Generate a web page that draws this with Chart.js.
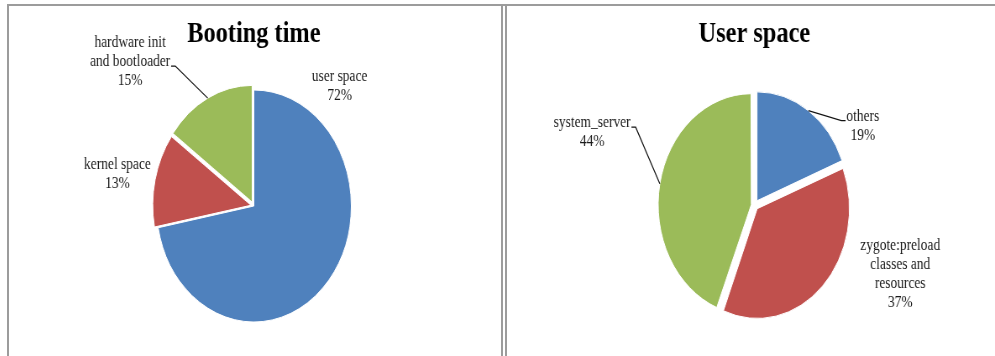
<!DOCTYPE html>
<html>
<head>
<meta charset="utf-8">
<title>Booting time / User space</title>
<script src="https://cdn.jsdelivr.net/npm/chart.js@4.4.0/dist/chart.umd.min.js"></script>
<style>
    html, body { margin: 0; padding: 0; background: #fff; overflow: hidden; }
    body { width: 995px; height: 356px; position: relative; }
    .frame { position: absolute; background: #9c9c9c; }
    /* the source figure is squeezed sideways, so each chart is drawn wide and scaled in x */
    .squash { position: absolute; top: 0; height: 356px; transform: scaleX(0.84); transform-origin: 0 0; }
</style>
</head>
<body>
<div class="squash" style="left:9px;width:586px"><canvas id="bootChart" width="586" height="356"></canvas></div>
<div class="squash" style="left:507px;width:581px"><canvas id="userChart" width="581" height="356"></canvas></div>
<div class="frame" style="left:7px;top:4px;width:988px;height:2px"></div>
<div class="frame" style="left:7px;top:4px;width:2px;height:352px"></div>
<div class="frame" style="left:501px;top:4px;width:2px;height:352px"></div>
<div class="frame" style="left:505px;top:4px;width:2px;height:352px"></div>
<script>
// Booting time breakdown (%)
const bootCategories = [['user space'], ['kernel space'], ['hardware init', 'and bootloader']];
const bootShares = [72, 13, 15];

// User space breakdown (%)
const userCategories = [['others'], ['zygote:preload', 'classes and', 'resources'], ['system_server']];
const userShares = [19, 37, 44];

const sliceColors = ['#4F81BD', '#C0504D', '#9BBB59'];
const serif = '"Liberation Serif", "Times New Roman", serif';

// where each data label sits, in radii from the pie centre
const bootLabelSpots = [
    { dx: 0.88, dy: -1.03 },
    { dx: -1.40, dy: -0.27 },
    { dx: -1.27, dy: -1.24, leader: true }
];
const userLabelSpots = [
    { dx: 1.19, dy: -0.73, leader: true },
    { dx: 1.60, dy: 0.64 },
    { dx: -1.78, dy: -0.67, leader: true }
];

/**
 * How far Chart.js actually pushes an arc out for its offset option
 */
function arcShift(arc) {
    const offset = arc.options.offset || 0;
    const circ = arc.endAngle - arc.startAngle;
    return offset / 4 * (2 - Math.sin(Math.min(Math.PI, circ)));
}

// Excel style data labels: category + percent, with leader lines for some
const pieLabels = {
    id: 'pieLabels',
    afterDatasetsDraw(chart, args, opts) {
        const ctx = chart.ctx;
        const meta = chart.getDatasetMeta(0);
        const values = chart.data.datasets[0].data;
        const total = values.reduce((a, b) => a + b, 0);
        const lh = 19;

        ctx.save();
        ctx.font = '16px ' + serif;
        ctx.fillStyle = '#1a1a1a';
        ctx.strokeStyle = '#111';
        ctx.lineWidth = 1.2;
        ctx.textAlign = 'center';
        ctx.textBaseline = 'middle';

        meta.data.forEach((arc, i) => {
            const spot = opts.spots[i];
            const r = arc.outerRadius;
            const lines = [].concat(chart.data.labels[i], Math.round(values[i] / total * 100) + '%');
            const cx = arc.x + spot.dx * r;
            const cy = arc.y + spot.dy * r;
            const top = cy - (lines.length - 1) * lh / 2;
            lines.forEach((t, k) => ctx.fillText(t, cx, top + k * lh));

            if (spot.leader) {
                let wide = 0, tw = 0;
                lines.forEach((t, k) => {
                    const w = ctx.measureText(t).width;
                    if (w > tw) { tw = w; wide = k; }
                });
                const mid = (arc.startAngle + arc.endAngle) / 2;
                const R = r + arcShift(arc);
                const px = arc.x + Math.cos(mid) * R;
                const py = arc.y + Math.sin(mid) * R;
                const side = px > cx ? 1 : -1;
                const sx = cx + side * (tw / 2 + 1);
                const sy = top + wide * lh + 4;
                ctx.beginPath();
                ctx.moveTo(sx, sy);
                ctx.lineTo(sx + side * 5, sy);
                ctx.lineTo(px, py);
                ctx.stroke();
            }
        });
        ctx.restore();
    }
};

/**
 * Build one pie panel
 */
function makePie(canvasId, title, categories, shares, offsets, radius, spots, padding) {
    const ctx = document.getElementById(canvasId).getContext('2d');
    return new Chart(ctx, {
        type: 'pie',
        data: {
            labels: categories,
            datasets: [{
                data: shares,
                backgroundColor: sliceColors,
                borderColor: '#ffffff',
                borderWidth: 1,
                offset: offsets,
                radius: radius
            }]
        },
        options: {
            responsive: false,
            animation: false,
            layout: { padding: padding },
            plugins: {
                legend: { display: false },
                tooltip: { enabled: false },
                title: {
                    display: true,
                    text: title,
                    color: '#000',
                    font: { family: serif, size: 29, weight: 'bold' },
                    padding: { top: 17.6, bottom: 10 }
                },
                pieLabels: { spots: spots }
            }
        },
        plugins: [pieLabels]
    });
}

makePie('bootChart', 'Booting time', bootCategories, bootShares, [0, 14, 17], 116,
    bootLabelSpots, { left: 0, right: 3, top: 0, bottom: 6.4 });
makePie('userChart', 'User space', userCategories, userShares, [22, 19, 15], 108.5,
    userLabelSpots, { left: 8, right: 0, top: 0, bottom: 7.8 });
</script>
</body>
</html>
